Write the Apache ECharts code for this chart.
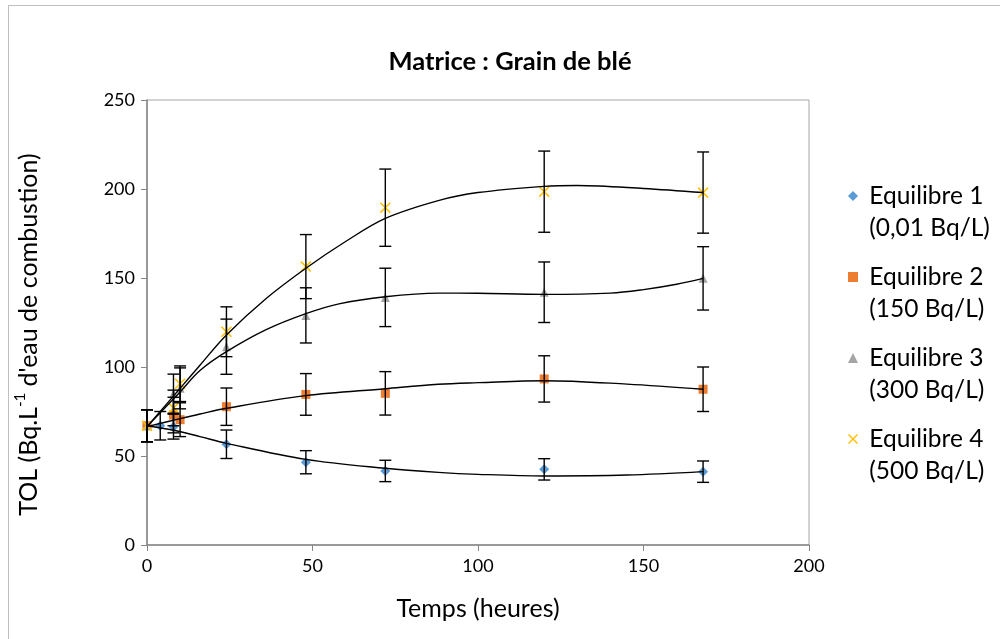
<!DOCTYPE html>
<html>
<head>
<meta charset="utf-8">
<script src="https://cdn.jsdelivr.net/npm/echarts@6/dist/echarts.min.js"></script>
<style>
html,body{margin:0;padding:0;background:#fff;}
#chart{width:1000px;height:639px;}
</style>
</head>
<body>
<div id="chart"></div>
<script>
// ---- data ----
const seriesNames = ['Equilibre 1', 'Equilibre 2', 'Equilibre 3', 'Equilibre 4'];
const legendSub = ['(0,01 Bq/L)', '(150 Bq/L)', '(300 Bq/L)', '(500 Bq/L)'];
const xTicks = [0, 50, 100, 150, 200];
const yTicks = [0, 50, 100, 150, 200, 250];

const hours1 = [0, 4, 8, 24, 48, 72, 120, 168];
const tol1   = [67, 67, 66.5, 56.6, 46.5, 41.6, 42.5, 41.2];
const err1   = [9, 8, 7, 8, 6.5, 6, 6, 6];

const hours2 = [0, 8, 10, 24, 48, 72, 120, 168];
const tol2   = [67, 73, 70.4, 77.7, 84.6, 85.2, 93.3, 87.5];
const err2   = [9, 10, 9.5, 10.5, 11.7, 12.2, 13, 12.5];

const hours3 = [0, 8, 10, 24, 48, 72, 120, 168];
const tol3   = [67, 85, 88, 111.4, 129, 139.1, 142, 149.8];
const err3   = [9, 11, 11.5, 15.5, 15.5, 16.4, 17, 17.8];

const hours4 = [0, 8, 10, 24, 48, 72, 120, 168];
const tol4   = [67, 77, 90.6, 119.8, 156.4, 189.5, 198.5, 198];
const err4   = [9, 10, 10, 14, 18, 21.7, 22.8, 22.8];

// trend curves (black)
const trendX1 = [0, 8, 16, 24, 48, 72, 88, 100, 120, 145, 168];
const trendY1 = [67, 64.5, 60.9, 57.1, 48.1, 43.1, 40.8, 39.7, 38.8, 39.3, 41.2];
const trendX2 = [0, 10, 16, 24, 48, 72, 88, 100, 120, 145, 168];
const trendY2 = [66.5, 71, 73.6, 76.8, 83.9, 87.8, 90.3, 91.2, 92.3, 90.4, 87.5];
const trendX3 = [0, 10, 16, 24, 36, 48, 58, 72, 88, 100, 120, 140, 150, 160, 168];
const trendY3 = [66.5, 86, 98, 108.6, 121, 130, 135.5, 139.5, 141.5, 141.4, 140.8, 141.5, 143.5, 146.5, 149.8];
const trendX4 = [0, 10, 16, 24, 36, 48, 60, 72, 88, 100, 120, 130, 150, 168];
const trendY4 = [66.5, 88, 101, 118, 138.5, 155.5, 170.5, 183.5, 193.5, 198, 201.5, 202, 200.3, 198];

// ---- styling ----
const colors = ['#5B9BD5', '#ED7D31', '#A5A5A5', '#FFC000'];
const xPath = 'path://M0,1L1,0L5,4L9,0L10,1L6,5L10,9L9,10L5,6L1,10L0,9L4,5Z';
const symbols = ['diamond', 'rect', 'triangle', xPath];
const symSizes = [10, 9, 9, 11];
const FONT = 'Lato';

const hoursAll = [hours1, hours2, hours3, hours4];
const tolAll = [tol1, tol2, tol3, tol4];
const errAll = [err1, err2, err3, err4];
const trendXAll = [trendX1, trendX2, trendX3, trendX4];
const trendYAll = [trendY1, trendY2, trendY3, trendY4];

const zip = (a, b) => a.map((v, i) => [v, b[i]]);

const series = [];
seriesNames.forEach((name, i) => {
  series.push({
    name: name,
    type: 'scatter',
    data: zip(hoursAll[i], tolAll[i]),
    symbol: symbols[i],
    symbolSize: symSizes[i],
    itemStyle: { color: colors[i], opacity: 1 },
    z: 2
  });
});
seriesNames.forEach((name, i) => {
  series.push({
    name: 'trend' + (i + 1),
    type: 'line',
    data: zip(trendXAll[i], trendYAll[i]),
    smooth: 0.35,
    showSymbol: false,
    symbol: 'none',
    lineStyle: { color: '#000', width: 1.4 },
    silent: true,
    z: 3
  });
});
seriesNames.forEach((name, i) => {
  series.push({
    name: 'err' + (i + 1),
    type: 'custom',
    silent: true,
    z: 4,
    data: hoursAll[i].map((h, k) => [h, tolAll[i][k], errAll[i][k]]),
    renderItem: function (params, api) {
      const x = api.value(0), y = api.value(1), e = api.value(2);
      const hi = api.coord([x, y + e]);
      const lo = api.coord([x, y - e]);
      const w = 6;
      const st = { stroke: '#000', lineWidth: 1.4 };
      return {
        type: 'group',
        children: [
          { type: 'line', shape: { x1: hi[0], y1: hi[1], x2: lo[0], y2: lo[1] }, style: st },
          { type: 'line', shape: { x1: hi[0] - w, y1: hi[1], x2: hi[0] + w, y2: hi[1] }, style: st },
          { type: 'line', shape: { x1: lo[0] - w, y1: lo[1], x2: lo[0] + w, y2: lo[1] }, style: st }
        ]
      };
    },
    encode: { x: 0, y: 1 }
  });
});

const chart = echarts.init(document.getElementById('chart'), null, { renderer: 'canvas' });
chart.setOption({
  animation: false,
  backgroundColor: '#fff',
  textStyle: { fontFamily: FONT },
  title: {
    text: 'Matrice : Grain de blé',
    left: 505,
    textAlign: 'center',
    top: 44,
    textStyle: { fontFamily: FONT, fontWeight: 'bold', fontSize: 25.5, color: '#000' }
  },
  grid: {
    left: 147, top: 100, width: 662, height: 445,
    show: true, borderColor: '#A6A6A6', borderWidth: 1, backgroundColor: 'transparent'
  },
  legend: {
    orient: 'vertical',
    left: 843,
    top: 143,
    data: seriesNames,
    itemWidth: 10,
    itemHeight: 10,
    itemGap: -15,
    selectedMode: false,
    formatter: function (name) {
      return ' \n ' + name + '\n ' + legendSub[seriesNames.indexOf(name)];
    },
    textStyle: { fontFamily: FONT, fontSize: 24.5, color: '#000', lineHeight: 32 }
  },
  xAxis: {
    type: 'value',
    min: xTicks[0], max: xTicks[xTicks.length - 1], interval: xTicks[1] - xTicks[0],
    name: 'Temps (heures)',
    nameLocation: 'middle',
    nameGap: 51,
    nameTextStyle: { fontFamily: FONT, fontSize: 25, color: '#000' },
    axisLine: { show: true, onZero: false, lineStyle: { color: '#868686', width: 1.5 } },
    axisTick: { show: true, length: 6, lineStyle: { color: '#868686' } },
    axisLabel: { fontFamily: FONT, fontSize: 18, color: '#000', margin: 12 },
    splitLine: { show: false }
  },
  yAxis: {
    type: 'value',
    min: yTicks[0], max: yTicks[yTicks.length - 1], interval: yTicks[1] - yTicks[0],
    name: 'TOL (Bq.L{sup|-1} d\'eau de combustion)',
    nameLocation: 'middle',
    nameGap: 103,
    nameTextStyle: {
      fontFamily: FONT, fontSize: 25, color: '#000', lineHeight: 31,
      padding: [0, 24, 0, 0],
      rich: { sup: { fontFamily: FONT, fontSize: 15, lineHeight: 15, verticalAlign: 'top', color: '#000' } }
    },
    axisLine: { show: true, lineStyle: { color: '#868686', width: 1.5 } },
    axisTick: { show: true, length: 6, lineStyle: { color: '#868686' } },
    axisLabel: { fontFamily: FONT, fontSize: 18, color: '#000', margin: 12 },
    splitLine: { show: false }
  },
  graphic: [
    { type: 'line', shape: { x1: 8.5, y1: 5, x2: 8.5, y2: 639 }, style: { stroke: '#BFBFBF', lineWidth: 1 }, silent: true },
    { type: 'line', shape: { x1: 8, y1: 5.5, x2: 1000, y2: 5.5 }, style: { stroke: '#BFBFBF', lineWidth: 1 }, silent: true }
  ],
  series: series
});
</script>
</body>
</html>
